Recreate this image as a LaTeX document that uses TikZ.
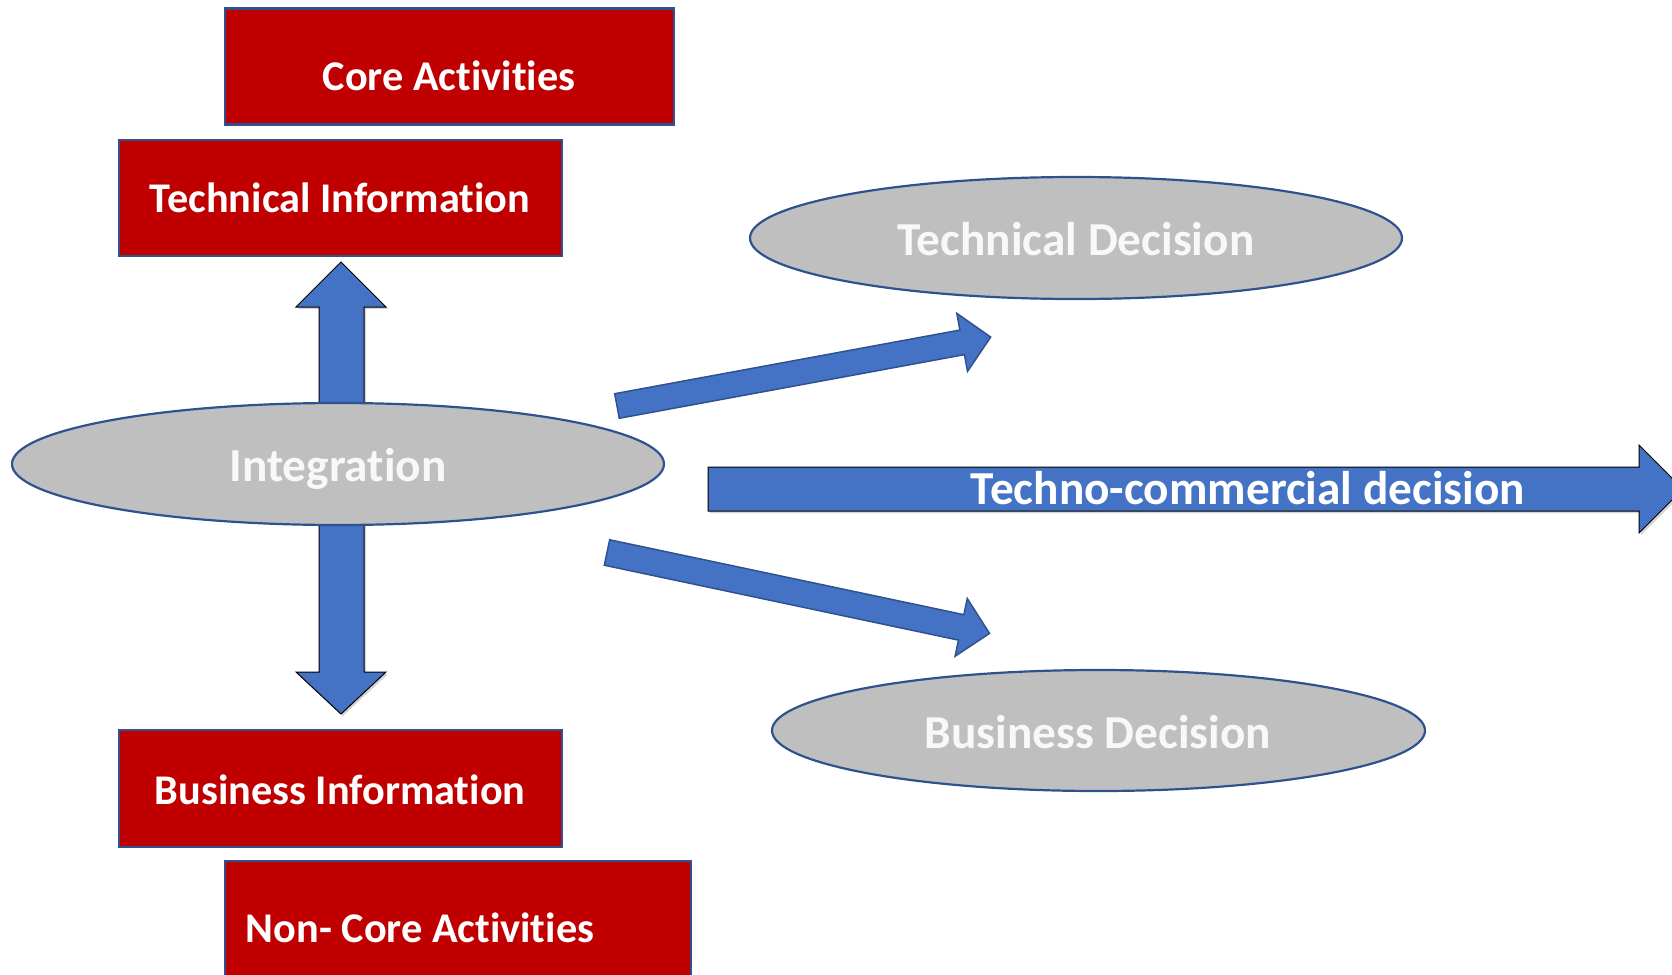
\documentclass[tikz,border=0pt]{standalone}
\usepackage{fontspec}
\setmainfont[Ligatures={NoCommon}]{Carlito}
\usetikzlibrary{shapes.geometric,shadows}
\definecolor{boxred}{HTML}{C00000}
\definecolor{edgeblue}{HTML}{2F528F}
\definecolor{arrowblue}{HTML}{4472C4}
\definecolor{ellgray}{HTML}{BFBFBF}
\definecolor{lighttext}{HTML}{F8F8F8}
\begin{document}
\begin{tikzpicture}[x=1pt,y=-1pt,
  redbox/.style={draw=edgeblue, line width=2.5pt, fill=boxred, inner sep=0pt},
  grayell/.style={ellipse, draw=edgeblue, line width=2.2pt, fill=ellgray, inner sep=0pt},
  boxtext/.style={text=white, font=\fontsize{42.3}{50}\selectfont\bfseries, inner sep=0pt, text height=27pt, text depth=0pt},
  elltext/.style={text=lighttext, font=\fontsize{47.3}{56}\selectfont\bfseries, inner sep=0pt, text height=30pt, text depth=0pt},
  arrtext/.style={text=white, font=\fontsize{47.3}{56}\selectfont\bfseries, inner sep=0pt, text height=30pt, text depth=0pt},
  blockarrow/.style={fill=arrowblue, draw=black, line width=1pt, drop shadow={shadow xshift=2pt, shadow yshift=-2pt, opacity=0.35}},
  diagarrow/.style={fill=arrowblue, draw=edgeblue, line width=1.5pt}]
\path[use as bounding box] (0,0) rectangle (1672,974);
\clip (0,0) rectangle (1672,974);

% red boxes
\node[redbox, minimum width=449pt, minimum height=116pt] (core) at (449.5,66.7) {};
\node[boxtext] (coreT) at (449,77) {Core Activities};
\node[redbox, minimum width=443pt, minimum height=116pt] (techinfo) at (340.5,198) {};
\node[boxtext] (techinfoT) at (340,199) {Technical Information};
\node[redbox, minimum width=443pt, minimum height=117pt] (businfo) at (340.5,788.5) {};
\node[boxtext] (businfoT) at (340,791) {Business Information};
\node[redbox, minimum width=466pt, minimum height=134pt] (noncore) at (458,928) {};
\node[boxtext] (noncoreT) at (420,929) {Non- Core Activities};

% vertical block arrows
\draw[blockarrow] (319,420) -- (319,307) -- (296,307) -- (341,262) -- (386,307) -- (364,307) -- (364,420) -- cycle;
\draw[blockarrow] (319,510) -- (319,672) -- (296,672) -- (341,714) -- (386,672) -- (364,672) -- (364,510) -- cycle;

% horizontal arrow
\draw[blockarrow] (708,467) -- (1639,467) -- (1639,445) -- (1683,489) -- (1639,533) -- (1639,511) -- (708,511) -- cycle;
\node[arrtext] (technoT) at (1248,489) {Techno-commercial decision};

% diagonal arrows
\begin{scope}[shift={(617,406)}, rotate=10.45]
  \draw[diagarrow] (0,-12.5) -- (351,-12.5) -- (351,-29.5) -- (380,0) -- (351,29.5) -- (351,12.5) -- (0,12.5) -- cycle;
\end{scope}
\begin{scope}[shift={(607,552.5)}, rotate=-11.94]
  \draw[diagarrow] (0,-13) -- (362,-13) -- (362,-29.5) -- (391,0) -- (362,29.5) -- (362,13) -- (0,13) -- cycle;
\end{scope}

% ellipses
\node[grayell, minimum width=652pt, minimum height=122pt] (integ) at (338,464) {};
\node[elltext] (integT) at (338,466) {Integration};
\node[grayell, minimum width=652pt, minimum height=122pt] (techdec) at (1076,238) {};
\node[elltext] (techdecT) at (1076,240) {Technical Decision};
\node[grayell, minimum width=653pt, minimum height=121pt] (busdec) at (1098.5,730.5) {};
\node[elltext] (busdecT) at (1098,733) {Business Decision};
\end{tikzpicture}
\end{document}
